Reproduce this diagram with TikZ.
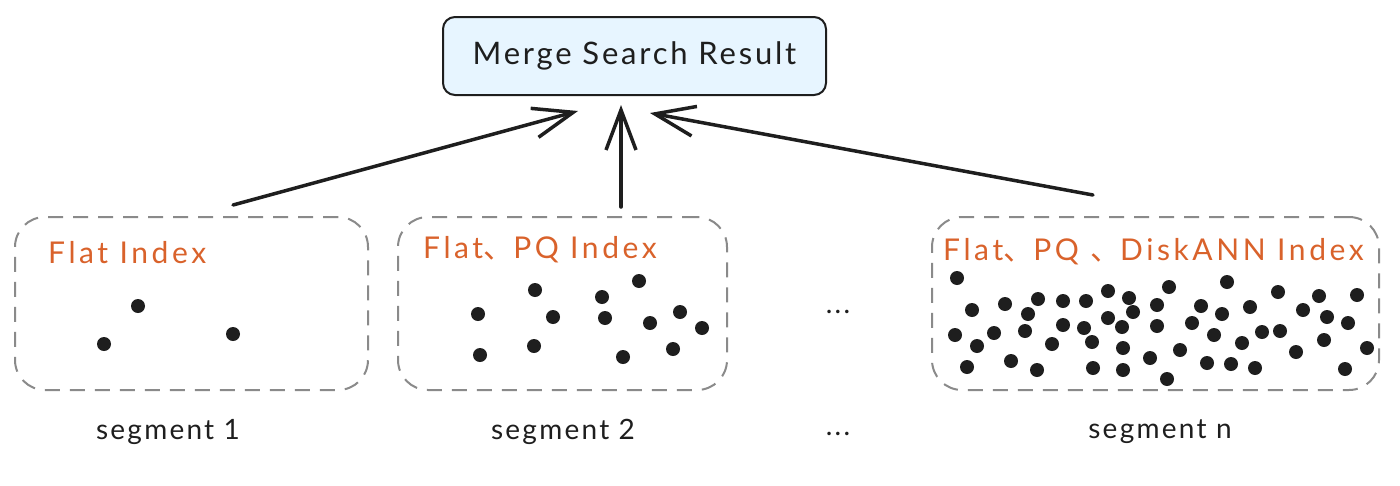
\documentclass[tikz,border=0pt]{standalone}
\usepackage{fontspec}
\setmainfont{Lato}
\newfontfamily\cjk{Noto Sans CJK SC}
\usetikzlibrary{arrows.meta}
\definecolor{boxblue}{HTML}{E7F5FF}
\definecolor{dashgray}{HTML}{8A8A8A}
\definecolor{idxorange}{HTML}{D9622B}
\definecolor{ink}{HTML}{1E1E1E}
\tikzset{
  mergebox/.style={draw=ink, line width=2pt, fill=boxblue, rounded corners=12pt,
    minimum width=383pt, minimum height=78pt,
    font=\fontsize{31}{34}\selectfont\addfontfeature{LetterSpace=9}, text=ink},
  segbox/.style={draw=dashgray, line width=2pt, dash pattern=on 15pt off 10pt,
    rounded corners=30pt, minimum height=173pt, inner sep=0pt},
  idxlabel/.style={anchor=west, text=idxorange,
    font=\fontsize{30}{33}\selectfont\addfontfeature{LetterSpace=12}, inner sep=0pt},
  seglabel/.style={text=ink, font=\fontsize{28}{31}\selectfont\addfontfeature{LetterSpace=8}, inner sep=0pt},
  flow/.style={draw=ink, line width=3.5pt, line cap=round,
    -{Straight Barb[length=40pt,width=30pt,line width=3.5pt]}},
  dotmark/.style={fill=ink}
}
\begin{document}
\begin{tikzpicture}[x=1pt,y=-1pt]
\useasboundingbox (0,0) rectangle (1400,485);
% top box
\node[mergebox] (merge) at (634.5,56) {Merge Search Result};
% segment boxes
\node[segbox, minimum width=353pt] (seg1) at (191.5,303.5) {};
\node[segbox, minimum width=329pt] (seg2) at (562.5,303.5) {};
\node[segbox, minimum width=447pt] (segn) at (1155.5,303.5) {};
% index labels
\node[idxlabel] (l1) at (48,253) {Flat Index};
\node[idxlabel] (l2) at (423,250) {Flat{\cjk 、}PQ Index};
\node[idxlabel] (l3) at (943,252) {Flat{\cjk 、}PQ {\cjk 、}DiskANN Index};
% segment labels
\node[seglabel] (s1) at (168,432) {segment 1};
\node[seglabel] (s2) at (563,432) {segment 2};
\node[seglabel] (sn) at (1160,432) {segment n};
\node[seglabel] (d1) at (838,312) {...};
\node[seglabel] (d2) at (838,434) {...};
% arrow endpoints
\coordinate (a1s) at (233,205);
\coordinate (a1e) at (578,111);
\coordinate (a2s) at (621,207);
\coordinate (a2e) at (621,105);
\coordinate (a3s) at (1093,195);
\coordinate (a3e) at (650,113);
\draw[flow] (a1s) -- (a1e);
\draw[flow] (a2s) -- (a2e);
\draw[flow] (a3s) -- (a3e);
% dots segment 1
\foreach \p in {(138,306),(104,344),(233,334)}
  \fill[dotmark] \p circle (7);
% dots segment 2
\foreach \p in {(478,314),(480,355),(535,290),(553,317),(534,346),(602,297),(605,318),
  (639,281),(650,323),(680,312),(702,328),(673,349),(623,357)}
  \fill[dotmark] \p circle (7);
% dots segment n
\foreach \p in {(957,278),(972,310),(955,335),(977,346),(967,367),(1005,304),(994,333),
  (1011,361),(1038,299),(1028,314),(1025,331),(1052,344),(1037,370),(1063,301),(1063,325),
  (1086,301),(1084,328),(1092,342),(1093,368),(1108,291),(1129,298),(1133,312),(1108,318),
  (1122,327),(1123,348),(1123,370),(1150,358),(1157,305),(1169,287),(1157,326),(1180,350),
  (1167,379),(1192,323),(1201,306),(1214,335),(1207,363),(1222,314),(1227,282),(1231,364),
  (1242,343),(1250,307),(1255,368),(1262,332),(1278,292),(1280,331),(1296,352),(1303,310),
  (1319,296),(1327,317),(1324,340),(1348,323),(1357,295),(1367,348),(1345,369)}
  \fill[dotmark] \p circle (7);
\end{tikzpicture}
\end{document}
